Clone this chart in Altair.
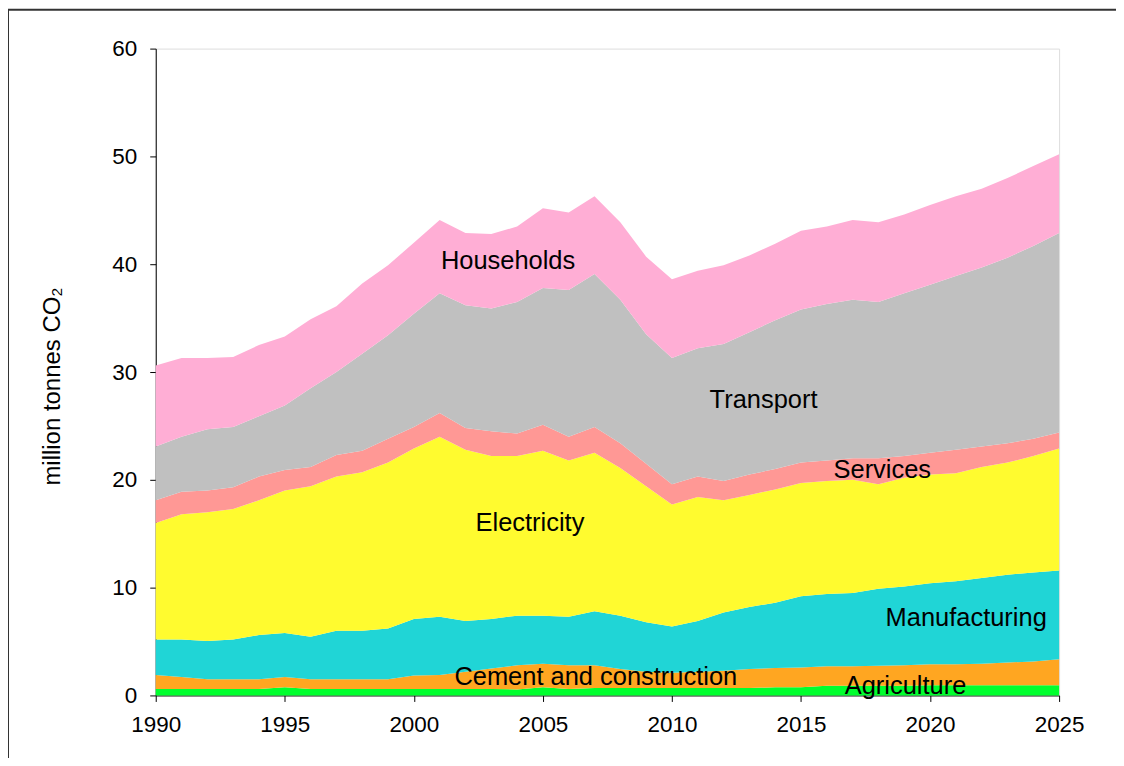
import altair as alt
import pandas as pd

years = list(range(1990, 2026))

agriculture = [0.6, 0.6, 0.6, 0.6, 0.6, 0.75, 0.6, 0.6, 0.6, 0.6, 0.6, 0.6, 0.6, 0.6, 0.55, 0.75, 0.6, 0.7,
               0.7, 0.7, 0.7, 0.7, 0.7, 0.7, 0.75, 0.75, 0.9, 0.9, 0.9, 0.9, 0.95, 0.95, 0.95, 0.95, 0.95, 0.95]
cement = [1.3, 1.1, 0.9, 0.9, 0.9, 0.95, 0.9, 0.9, 0.9, 0.9, 1.25, 1.3, 1.6, 1.9, 2.25, 2.2, 2.2, 2.1,
          1.75, 1.5, 1.4, 1.5, 1.6, 1.75, 1.8, 1.85, 1.8, 1.8, 1.85, 1.9, 1.95, 1.95, 2.0, 2.1, 2.2, 2.4]
manufacturing = [3.3, 3.5, 3.55, 3.7, 4.1, 4.1, 3.95, 4.5, 4.5, 4.7, 5.25, 5.4, 4.7, 4.6, 4.6, 4.45, 4.5, 5.0,
                 4.95, 4.6, 4.3, 4.7, 5.4, 5.75, 6.05, 6.6, 6.7, 6.8, 7.15, 7.3, 7.5, 7.7, 7.95, 8.15, 8.25, 8.25]
electricity = [10.8, 11.6, 11.95, 12.1, 12.5, 13.2, 13.95, 14.3, 14.7, 15.4, 15.8, 16.7, 15.9, 15.1, 14.8, 15.3,
               14.5, 14.7, 13.7, 12.6, 11.3, 11.5, 10.4, 10.4, 10.5, 10.5, 10.5, 10.5, 9.7, 10.1, 10.1, 10.0,
               10.3, 10.4, 10.8, 11.3]
services = [2.1, 2.1, 2.0, 2.0, 2.2, 1.9, 1.8, 2.0, 2.0, 2.2, 2.0, 2.2, 2.0, 2.3, 2.1, 2.4, 2.2, 2.4,
            2.3, 2.1, 1.9, 1.9, 1.8, 1.9, 1.9, 1.9, 1.9, 2.0, 2.4, 2.0, 2.0, 2.2, 1.9, 1.8, 1.6, 1.5]
transport = [5.0, 5.1, 5.7, 5.6, 5.6, 6.0, 7.3, 7.7, 9.0, 9.6, 10.5, 11.1, 11.4, 11.4, 12.2, 12.7, 13.6, 14.2,
             13.3, 12.0, 11.7, 11.9, 12.7, 13.2, 13.8, 14.2, 14.5, 14.7, 14.5, 15.1, 15.6, 16.1, 16.6, 17.2,
             17.9, 18.5]
households = [7.5, 7.3, 6.6, 6.5, 6.6, 6.4, 6.4, 6.1, 6.5, 6.5, 6.6, 6.8, 6.7, 6.9, 7.0, 7.4, 7.2, 7.2,
              7.2, 7.2, 7.3, 7.2, 7.3, 7.1, 7.1, 7.3, 7.2, 7.4, 7.4, 7.3, 7.4, 7.4, 7.3, 7.4, 7.4, 7.3]

sectors = ["Agriculture", "Cement and construction", "Manufacturing", "Electricity",
           "Services", "Transport", "Households"]
series = [agriculture, cement, manufacturing, electricity, services, transport, households]
colors = ["#00FF2E", "#FFA621", "#20D5D6", "#FFFB2F", "#FF9895", "#C0C0C0", "#FFAED5"]

# in-chart labels (data coordinates)
label_text = ["Households", "Transport", "Services", "Electricity", "Manufacturing",
              "Cement and construction", "Agriculture"]
label_year = [2003.65, 2013.55, 2018.15, 2004.5, 2021.4, 2007.05, 2019.05]
label_value = [40.3, 27.4, 20.9, 16.0, 7.2, 1.75, 0.9]

rows = []
for i, (name, vals) in enumerate(zip(sectors, series)):
    for y, v in zip(years, vals):
        rows.append({"year": y, "sector": name, "value": v, "idx": i})
df = pd.DataFrame(rows)

labels_df = pd.DataFrame({"text": label_text, "year": label_year, "value": label_value})

FONT = "Liberation Sans"

x_enc = alt.X("year:Q", scale=alt.Scale(domain=[1990, 2025], nice=False, zero=False),
              axis=alt.Axis(values=list(range(1990, 2030, 5)), format="d", title=None,
                            labelFont=FONT, labelFontSize=22.5, labelColor="black",
                            tickSize=6, tickColor="black", domainColor="black",
                            labelPadding=12, grid=False, labelFlush=False))
y_scale = alt.Scale(domain=[0, 60], nice=False)

areas = alt.Chart(df).mark_area(interpolate="linear", opacity=1).encode(
    x=x_enc,
    y=alt.Y("value:Q", stack="zero", scale=y_scale,
            axis=alt.Axis(values=list(range(0, 70, 10)), title="million tonnes CO\u2082",
                          labelFont=FONT, labelFontSize=22.5, labelColor="black",
                          tickSize=6, tickColor="black", domainColor="black",
                          labelPadding=13, grid=False,
                          titleFont=FONT, titleFontSize=24, titleFontWeight="normal",
                          titleColor="black", titleX=-103, titleY=338,
                          titleBaseline="middle", titleAlign="center", titleAngle=-90)),
    color=alt.Color("sector:N", scale=alt.Scale(domain=sectors, range=colors), legend=None),
    order=alt.Order("idx:Q", sort="ascending"),
)

texts = alt.Chart(labels_df).mark_text(font=FONT, fontSize=25.5, color="black",
                                       align="center", baseline="middle").encode(
    x=alt.X("year:Q", scale=alt.Scale(domain=[1990, 2025], nice=False, zero=False)),
    y=alt.Y("value:Q", scale=y_scale),
    text="text:N",
)

frame_df = pd.DataFrame({"a": [0]})
frame_top = alt.Chart(frame_df).mark_rule(stroke="#333333", strokeWidth=2).encode(
    x=alt.value(-147), x2=alt.value(1400), y=alt.value(-39))
frame_left = alt.Chart(frame_df).mark_rule(stroke="#333333", strokeWidth=2).encode(
    x=alt.value(-148), y=alt.value(-40), y2=alt.value(1000))

chart = alt.layer(frame_top, frame_left, areas, texts).properties(
    width=905, height=648,
    autosize=alt.AutoSizeParams(type="none"),
    padding={"left": 148, "top": 40, "right": 57, "bottom": 62},
).configure_view(stroke=None).configure(background="white")

chart.save("out.html", embed_options={"renderer": "svg", "actions": False})
